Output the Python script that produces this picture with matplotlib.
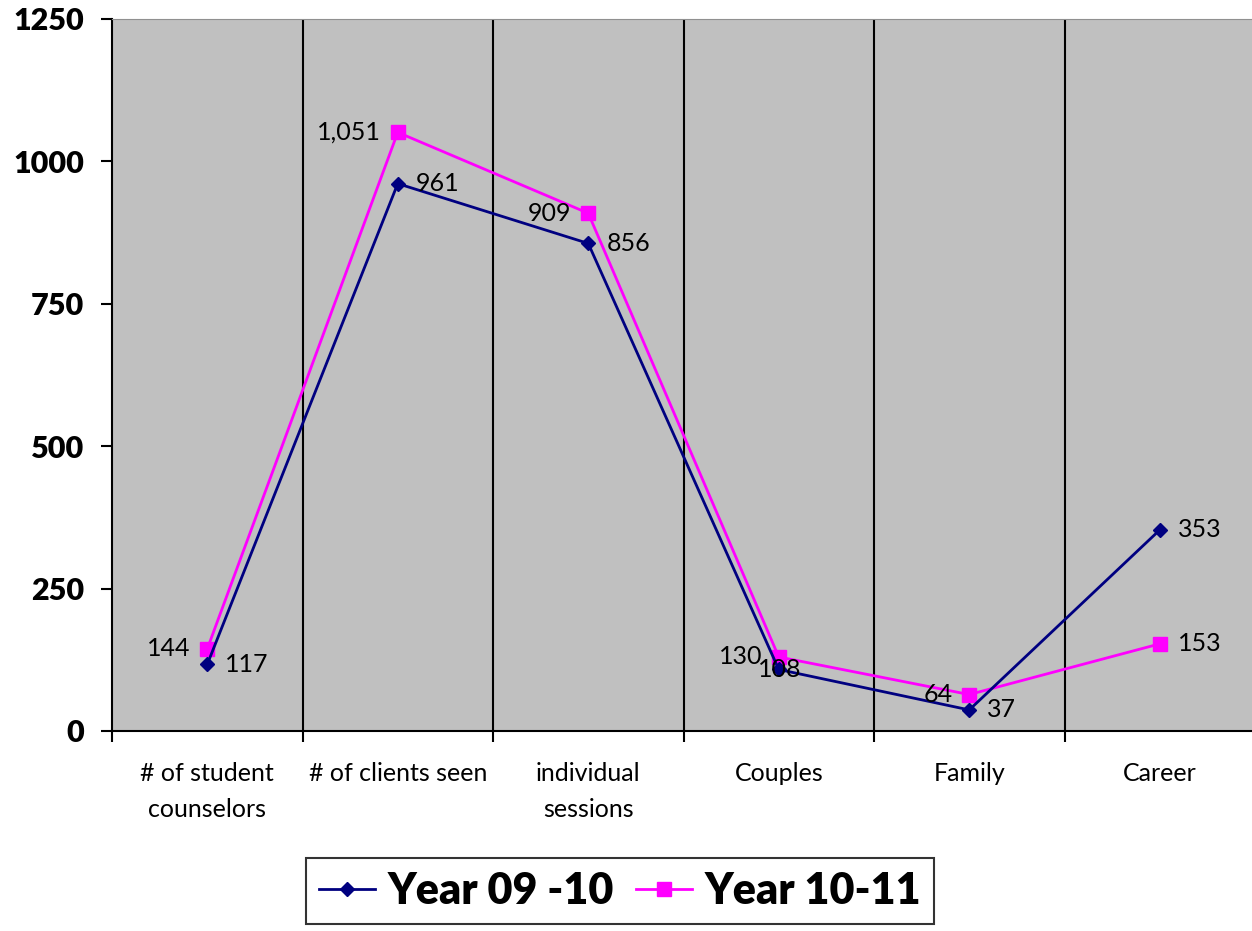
import numpy as np
import matplotlib.pyplot as plt
from matplotlib.lines import Line2D

# chart data
categories = ["# of student\ncounselors", "# of clients seen", "individual\nsessions",
              "Couples", "Family", "Career"]
year_0910 = [117, 961, 856, 108, 37, 353]
year_1011 = [144, 1051, 909, 130, 64, 153]
labels_0910 = ["117", "961", "856", "108", "37", "353"]
labels_1011 = ["144", "1,051", "909", "130", "64", "153"]
side_1011 = ["left", "left", "left", "left", "left", "right"]
y_ticks = [0, 250, 500, 750, 1000, 1250]

plt.rcParams['font.family'] = ['Lato', 'DejaVu Sans']

fig = plt.figure(figsize=(12.52, 9.31), dpi=100)
ax = fig.add_axes([112 / 1252, 1 - 731 / 931, 1143 / 1252, 712 / 931])
ax.set_facecolor('#C0C0C0')

x = np.arange(len(categories))

# vertical separators between categories
for b in np.arange(0.5, len(categories) - 0.5, 1):
    ax.axvline(b, color='black', lw=1.5, zorder=1)

ax.plot(x, year_0910, color='#000080', lw=2, marker='D', ms=7,
        label='Year 09 -10', zorder=3)
ax.plot(x, year_1011, color='#FF00FF', lw=2, marker='s', ms=10,
        label='Year 10-11', zorder=2)

# data labels (the Couples label sits on top of its marker, like the original)
for xi, v, t in zip(x, year_0910, labels_0910):
    if categories[xi] == "Couples":
        ax.annotate(t, (xi, v), xytext=(1, 0), textcoords='offset points',
                    ha='center', va='center', fontsize=18, zorder=4)
    else:
        ax.annotate(t, (xi, v), xytext=(13, 0), textcoords='offset points',
                    ha='left', va='center', fontsize=18, zorder=4)
for xi, v, t, s in zip(x, year_1011, labels_1011, side_1011):
    dx = -12 if s == 'left' else 13
    ax.annotate(t, (xi, v), xytext=(dx, 0), textcoords='offset points',
                ha='right' if s == 'left' else 'left', va='center',
                fontsize=18, zorder=4)

ax.set_xlim(-0.5, len(categories) - 0.5)
ax.set_ylim(0, 1250)
ax.set_yticks(y_ticks)
ax.set_yticklabels([str(t) for t in y_ticks], fontsize=22, fontweight='heavy')
ax.tick_params(axis='y', length=8, width=1.5, pad=12)

# category ticks at boundaries, labels at centres
ax.set_xticks(np.arange(-0.5, len(categories), 1))
ax.set_xticklabels([])
ax.set_xticks(x, minor=True)
ax.set_xticklabels(categories, minor=True, fontsize=18, linespacing=1.7)
ax.tick_params(axis='x', which='minor', length=0, pad=22)
ax.tick_params(axis='x', which='major', length=8, width=1.5)

ax.spines['left'].set_linewidth(1.5)
ax.spines['bottom'].set_linewidth(1.5)
ax.spines['top'].set_color('#909090')
ax.spines['right'].set_visible(False)

handles = [Line2D([], [], color='#000080', lw=2, marker='D', ms=7),
           Line2D([], [], color='#FF00FF', lw=2, marker='s', ms=10)]
leg = fig.legend(handles, ['Year 09 -10', 'Year 10-11'], loc='center',
                 bbox_to_anchor=(620 / 1252, 1 - 891 / 931), ncol=2,
                 prop={'size': 31, 'weight': 'heavy'}, frameon=True,
                 fancybox=False, edgecolor='black', handlelength=1.3,
                 handletextpad=0.3, columnspacing=0.5, borderpad=0.3)
leg.get_frame().set_linewidth(1.5)

plt.savefig("out.png", dpi=100)
